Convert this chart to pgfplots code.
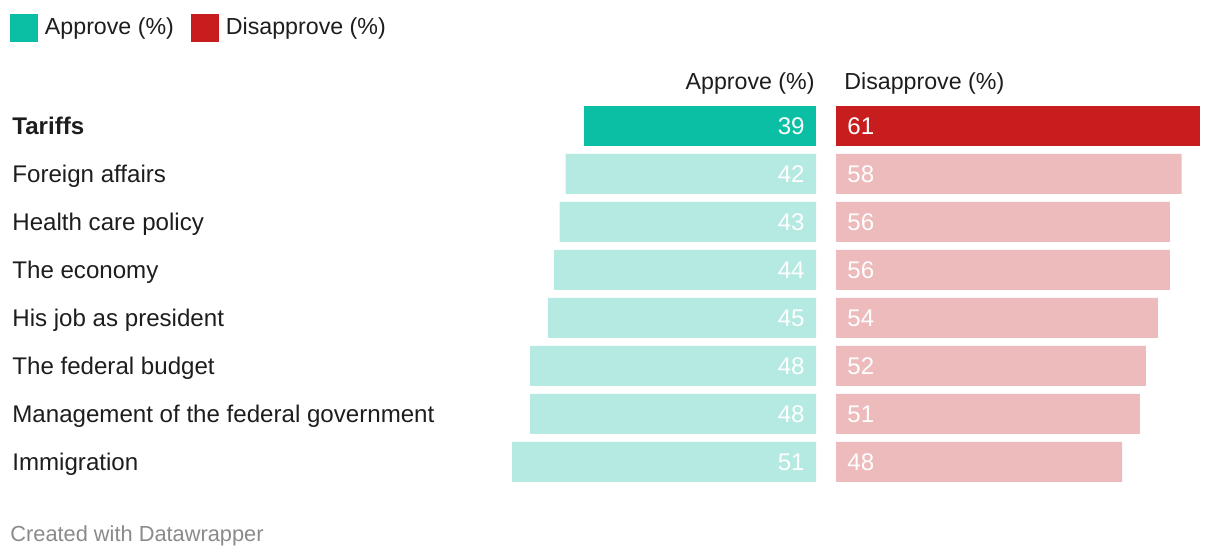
\documentclass[border=0pt]{standalone}
\usepackage{pgfplots}
\pgfplotsset{compat=1.18}
\usepackage{pgfplotstable}
\usepackage{fontspec}
\setmainfont{Liberation Sans}

\definecolor{apdark}{HTML}{0ABFA3}
\definecolor{aplight}{HTML}{B4EAE2}
\definecolor{disdark}{HTML}{C81D1E}
\definecolor{dislight}{HTML}{EDBBBB}
\definecolor{txt}{HTML}{1D1D1D}
\definecolor{foot}{HTML}{8A8A8A}
\newcommand\fs{\fontsize{11.6pt}{14pt}\selectfont}
\newcommand\fc{\fontsize{12.05pt}{14pt}\selectfont}

% row, zero column for the value labels, approve, disapprove
\pgfplotstableread{
row z a d
0 0 39 61
1 0 42 58
2 0 43 56
3 0 44 56
4 0 45 54
5 0 48 52
6 0 48 51
7 0 51 48
}\data

\pgfplotsset{
  barbase/.style={
    scale only axis, width=298pt, height=192pt,
    xmin=0, xmax=100, ymin=-0.5, ymax=7.5, y dir=reverse,
    axis line style={draw=none}, tick style={draw=none},
    major tick length=0pt, xtick=\empty,
    clip=false,
  },
  bars/.style={xbar, bar width=20pt, bar shift=0pt, draw=none, forget plot},
  vals/.style={draw=none, mark=none, forget plot, nodes near coords,
    point meta=explicit symbolic},
}

\begin{document}
\begin{tikzpicture}
\path[use as bounding box] (0pt,0pt) rectangle (610pt,-280pt);

\begin{axis}[barbase, x dir=reverse, ytick=\empty,
  at={(408pt,-51pt)}, anchor=north east]
  \addplot[bars, fill=apdark, skip coords between index={1}{8}]
    table[x=a, y=row]{\data};
  \addplot[bars, fill=aplight, skip coords between index={0}{1}]
    table[x=a, y=row]{\data};
  \addplot[vals, every node near coord/.append style={anchor=base east,
      xshift=-5.5pt, yshift=-4.3pt, inner sep=0pt, font=\fc, text=white}]
    table[x=z, y=row, meta=a]{\data};
\end{axis}

\begin{axis}[barbase, at={(418pt,-51pt)}, anchor=north west,
  ytick={0,...,7},
  yticklabels={\textbf{Tariffs}, Foreign affairs, Health care policy,
    The economy, His job as president, The federal budget,
    Management of the federal government, Immigration},
  yticklabel style={anchor=base west, xshift=-412pt, yshift=-4.3pt,
    inner sep=0pt, font=\fc, text=txt},
  legend columns=2,
  legend image code/.code={\fill[#1] (0pt,-7pt) rectangle (14pt,7pt);},
  legend style={at={(-1.3859,1.2292)}, anchor=north west, draw=none,
    fill=none, inner sep=0pt, outer sep=0pt, font=\fs, text=txt,
    nodes={inner sep=0pt},
    /tikz/every odd column/.append style={column sep=3.5pt},
    /tikz/every even column/.append style={column sep=8.5pt}},
  legend cell align=left]
  \addlegendimage{fill=apdark, draw=none}
  \addlegendentry{Approve (\%)}
  \addlegendimage{fill=disdark, draw=none}
  \addlegendentry{Disapprove (\%)}
  \addplot[bars, fill=disdark, skip coords between index={1}{8}]
    table[x=d, y=row]{\data};
  \addplot[bars, fill=dislight, skip coords between index={0}{1}]
    table[x=d, y=row]{\data};
  \addplot[vals, every node near coord/.append style={anchor=base west,
      xshift=5.5pt, yshift=-4.3pt, inner sep=0pt, font=\fc, text=white}]
    table[x=z, y=row, meta=d]{\data};
\end{axis}

\node[anchor=base east, inner sep=0pt, font=\fs, text=txt]
  at (407.5pt,-45pt) {Approve (\%)};
\node[anchor=base west, inner sep=0pt, font=\fs, text=txt]
  at (422pt,-45pt) {Disapprove (\%)};
\node[anchor=base west, inner sep=0pt,
  font=\fontsize{10.9pt}{12pt}\selectfont, text=foot]
  at (5pt,-271pt) {Created with Datawrapper};
\end{tikzpicture}
\end{document}
